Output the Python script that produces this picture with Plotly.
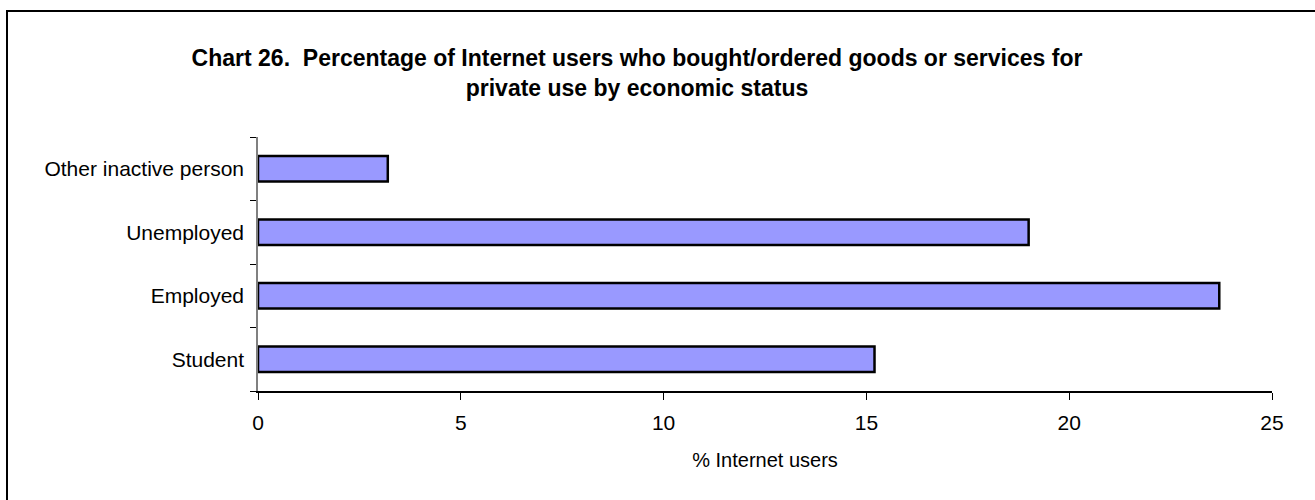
import plotly.graph_objects as go

# Economic status categories (bottom to top) and share of Internet users (%)
categories = ["Student", "Employed", "Unemployed", "Other inactive person"]
values = [15.2, 23.7, 19.0, 3.2]

x_ticks = [0, 5, 10, 15, 20, 25]

W, H = 1315, 500
L, R, T, B = 258, 43, 137, 109
pw, ph = W - L - R, H - T - B

fig = go.Figure(
    go.Bar(
        y=categories,
        x=values,
        orientation="h",
        marker=dict(color="#9999FF", line=dict(color="#000000", width=2.5)),
        hoverinfo="x+y",
    )
)

font = "Arial, Liberation Sans, sans-serif"

fig.update_layout(
    width=W,
    height=H,
    margin=dict(l=L, r=R, t=T, b=B, autoexpand=False),
    paper_bgcolor="white",
    plot_bgcolor="white",
    bargap=0.6,
    showlegend=False,
    font=dict(family=font, size=20, color="#000000"),
    title=dict(
        text="<b>Chart 26.  Percentage of Internet users who bought/ordered goods or services for<br>private use by economic status</b>",
        x=637 / W,
        xanchor="center",
        xref="container",
        y=1 - 66 / H,
        yanchor="middle",
        yref="container",
        font=dict(family=font, size=23, color="#000000"),
    ),
    xaxis=dict(
        range=[0, 25],
        tickvals=x_ticks,
        ticks="outside",
        ticklen=7,
        tickcolor="#000000",
        showline=True,
        linecolor="#000000",
        linewidth=1.5,
        showgrid=False,
        zeroline=False,
        tickfont=dict(size=21),
        ticklabelstandoff=5,
        title=dict(text="% Internet users", font=dict(size=20), standoff=20),
    ),
    yaxis=dict(
        categoryorder="array",
        categoryarray=categories,
        ticks="outside",
        tickson="boundaries",
        ticklen=6,
        tickcolor="#000000",
        showline=True,
        linecolor="#808080",
        linewidth=1.5,
        showgrid=False,
        zeroline=False,
        tickfont=dict(size=21),
        ticklabelstandoff=8,
    ),
    shapes=[
        dict(
            type="rect",
            xref="paper",
            yref="paper",
            x0=(7 - L) / pw,
            x1=(W + 10 - L) / pw,
            y0=-(H + 10 - (H - B)) / ph,
            y1=1 + (T - 11) / ph,
            line=dict(color="#000000", width=2),
            fillcolor="rgba(0,0,0,0)",
            layer="below",
        )
    ],
)

fig.write_html("out.html")
